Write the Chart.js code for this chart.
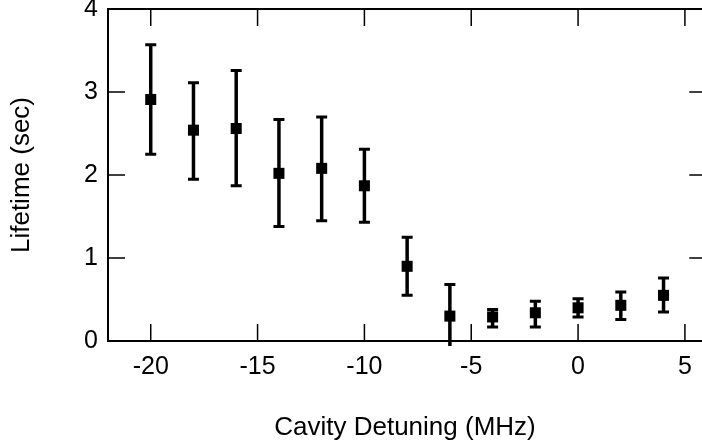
<!DOCTYPE html>
<html>
<head>
    <title>Lifetime vs Cavity Detuning</title>
    <style>
        body {
            margin: 0;
            background-color: white;
        }
        #wrap {
            width: 702px;
            height: 446px;
        }
    </style>
</head>
<body>
    <div id="wrap">
        <canvas id="lifeChart" width="702" height="446"></canvas>
    </div>

    <script src="https://cdn.jsdelivr.net/npm/chart.js"></script>
    <script>
    // data
    const detuning = [-20, -18, -16, -14, -12, -10, -8, -6, -4, -2, 0, 2, 4];
    const lifetime = [2.91, 2.54, 2.56, 2.02, 2.08, 1.87, 0.90, 0.30, 0.29, 0.34, 0.40, 0.43, 0.55];
    const errTop = [3.57, 3.11, 3.26, 2.67, 2.70, 2.31, 1.25, 0.68, 0.38, 0.48, 0.51, 0.59, 0.76];
    const errBottom = [2.25, 1.95, 1.87, 1.38, 1.45, 1.43, 0.55, -0.08, 0.17, 0.17, 0.29, 0.26, 0.35];

    const xTicks = [-20, -15, -10, -5, 0, 5];
    const yTicks = [0, 1, 2, 3, 4];
    const xRightEdge = 6;

    const fontFamily = '"Liberation Sans", Arial, sans-serif';

    // error bars with caps, drawn through the scales
    const errorBars = {
        id: 'errorBars',
        beforeDatasetsDraw(chart) {
            const ctx = chart.ctx;
            const xs = chart.scales.x, ys = chart.scales.y;
            const area = chart.chartArea;
            ctx.save();
            ctx.beginPath();
            ctx.rect(area.left, area.top - 2, area.right - area.left, area.bottom - area.top + 7);
            ctx.clip();
            ctx.strokeStyle = '#000';
            for (let i = 0; i < detuning.length; i++) {
                const px = xs.getPixelForValue(detuning[i]);
                const top = ys.getPixelForValue(errTop[i]);
                const bot = ys.getPixelForValue(errBottom[i]);
                ctx.lineWidth = 3.5;
                ctx.beginPath();
                ctx.moveTo(px, top);
                ctx.lineTo(px, bot);
                ctx.stroke();
                ctx.lineWidth = 3;
                ctx.beginPath();
                ctx.moveTo(px - 5.5, top);
                ctx.lineTo(px + 5.5, top);
                ctx.moveTo(px - 5.5, bot);
                ctx.lineTo(px + 5.5, bot);
                ctx.stroke();
            }
            ctx.restore();
        }
    };

    // box frame with inward ticks on all sides
    const frame = {
        id: 'frame',
        afterDatasetsDraw(chart) {
            const ctx = chart.ctx;
            const xs = chart.scales.x, ys = chart.scales.y;
            const left = xs.getPixelForValue(-22);
            const right = xs.getPixelForValue(xRightEdge);
            const top = ys.getPixelForValue(4);
            const bottom = ys.getPixelForValue(0);
            const tl = 17;
            ctx.save();
            ctx.strokeStyle = '#000';
            ctx.lineWidth = 2;
            ctx.beginPath();
            ctx.moveTo(left, top);
            ctx.lineTo(right, top);
            ctx.lineTo(right, bottom);
            ctx.lineTo(left, bottom);
            ctx.closePath();
            ctx.stroke();
            ctx.lineWidth = 1.5;
            ctx.beginPath();
            xTicks.forEach(v => {
                const p = xs.getPixelForValue(v);
                ctx.moveTo(p, bottom);
                ctx.lineTo(p, bottom - tl);
                ctx.moveTo(p, top);
                ctx.lineTo(p, top + tl);
            });
            yTicks.forEach(v => {
                const p = ys.getPixelForValue(v);
                ctx.moveTo(left, p);
                ctx.lineTo(left + tl, p);
                ctx.moveTo(right, p);
                ctx.lineTo(right - tl, p);
            });
            ctx.stroke();
            ctx.restore();
        }
    };

    const points = detuning.map((x, i) => ({ x: x, y: lifetime[i] }));

    new Chart(document.getElementById('lifeChart').getContext('2d'), {
        type: 'scatter',
        data: {
            datasets: [{
                data: points,
                pointStyle: 'rect',
                pointRadius: 7.8,
                backgroundColor: '#000',
                borderColor: '#000',
                borderWidth: 0,
                showLine: false
            }]
        },
        options: {
            responsive: false,
            animation: false,
            layout: { autoPadding: false, padding: { top: 9, right: 0, bottom: 0, left: 0 } },
            plugins: {
                legend: { display: false },
                tooltip: { enabled: false }
            },
            scales: {
                x: {
                    type: 'linear',
                    min: -22,
                    max: 5.8,
                    grid: { display: false, drawTicks: false },
                    border: { display: false },
                    afterBuildTicks: s => { s.ticks = xTicks.map(v => ({ value: v })); },
                    afterFit: s => { s.height = 105; s.paddingLeft = 0; s.paddingRight = 0; },
                    ticks: {
                        color: '#000',
                        padding: 11,
                        maxRotation: 0,
                        font: { family: fontFamily, size: 25 },
                        callback: v => String(v)
                    },
                    title: {
                        display: true,
                        text: 'Cavity Detuning (MHz)',
                        color: '#000',
                        padding: { top: 0, bottom: 3 },
                        font: { family: fontFamily, size: 26 }
                    }
                },
                y: {
                    min: 0,
                    max: 4,
                    grid: { display: false, drawTicks: false },
                    border: { display: false },
                    afterBuildTicks: s => { s.ticks = yTicks.map(v => ({ value: v })); },
                    afterFit: s => { s.width = 108; s.paddingTop = 0; s.paddingBottom = 0; },
                    ticks: {
                        color: '#000',
                        padding: 10,
                        font: { family: fontFamily, size: 25 }
                    },
                    title: {
                        display: true,
                        text: 'Lifetime (sec)',
                        color: '#000',
                        padding: { top: 6, bottom: 0 },
                        font: { family: fontFamily, size: 26 }
                    }
                }
            }
        },
        plugins: [errorBars, frame]
    });
    </script>
</body>
</html>
